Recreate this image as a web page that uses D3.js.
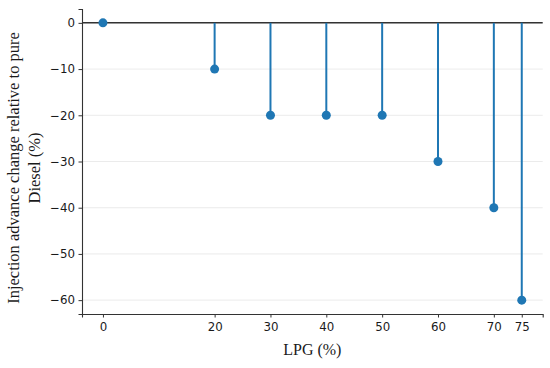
<!DOCTYPE html>
<html><head><meta charset="utf-8">
<script src="https://cdn.jsdelivr.net/npm/d3@7"></script>
<style>body{margin:0;background:#fff}</style>
</head><body>
<svg id="c" width="550" height="368"></svg>
<script>
const lpg = [0, 20, 30, 40, 50, 60, 70, 75];
const advanceChange = [0, -10, -20, -20, -20, -30, -40, -60];
const xTicks = [0, 20, 30, 40, 50, 60, 70, 75];
const yTicks = [0, -10, -20, -30, -40, -50, -60];
const xLabel = "LPG (%)";
const yLabelLines = ["Injection advance change relative to pure", "Diesel (%)"];

const svg = d3.select("#c");
const L = 82, R = 542.7, T = 9, B = 314;
const x = d3.scaleLinear().domain([-3.75, 78.75]).range([L, R]);
const y = d3.scaleLinear().domain([-63, 3]).range([B, T]);
const col = "#1f77b4";
const tickFont = "'DejaVu Sans', sans-serif";
const labFont = "'Liberation Serif', 'DejaVu Serif', serif";

// gridlines
svg.append("g").selectAll("line").data(yTicks).join("line")
  .attr("x1", L).attr("x2", R).attr("y1", d => y(d)).attr("y2", d => y(d))
  .attr("stroke", "#e6e6e6").attr("stroke-width", 0.8);

// zero line
svg.append("line").attr("x1", L).attr("x2", R).attr("y1", y(0)).attr("y2", y(0))
  .attr("stroke", "#333").attr("stroke-width", 1.5);

// stems
const data = lpg.map((v, i) => ({x: v, y: advanceChange[i]}));
svg.append("g").selectAll("line").data(data).join("line")
  .attr("x1", d => x(d.x)).attr("x2", d => x(d.x))
  .attr("y1", y(0)).attr("y2", d => y(d.y))
  .attr("stroke", col).attr("stroke-width", 2);
svg.append("g").selectAll("circle").data(data).join("circle")
  .attr("cx", d => x(d.x)).attr("cy", d => y(d.y)).attr("r", 4.5).attr("fill", col);

// axes
const xa = svg.append("g").attr("transform", `translate(0,${B})`)
  .call(d3.axisBottom(x).tickValues(xTicks).tickFormat(d3.format("d")).tickSizeOuter(0).tickSize(3.5).tickPadding(5));
const ya = svg.append("g").attr("transform", `translate(${L},0)`)
  .call(d3.axisLeft(y).tickValues(yTicks).tickFormat(d => d < 0 ? "\u2212" + Math.abs(d) : d).tickSizeOuter(0).tickSize(3.5).tickPadding(3.5));
[xa, ya].forEach(a => {
  a.select(".domain").attr("stroke", "#333").attr("stroke-width", 1.1);
  a.selectAll(".tick line").attr("stroke", "#333").attr("stroke-width", 1);
  a.selectAll("text").attr("font-family", tickFont).attr("font-size", 11.8).attr("fill", "#1a1a1a");
});

// labels
svg.append("text").attr("x", (L + R) / 2).attr("y", 355).attr("text-anchor", "middle")
  .attr("font-family", labFont).attr("font-size", 16).attr("fill", "#1a1a1a").text(xLabel);
const yl = svg.append("text").attr("transform", "translate(0,168) rotate(-90)")
  .attr("text-anchor", "middle").attr("font-family", labFont).attr("font-size", 16.5).attr("fill", "#1a1a1a");
yLabelLines.forEach((t, i) => yl.append("tspan").attr("x", 0).attr("y", 19 + i * 20.5).text(t));
</script>
</body></html>
